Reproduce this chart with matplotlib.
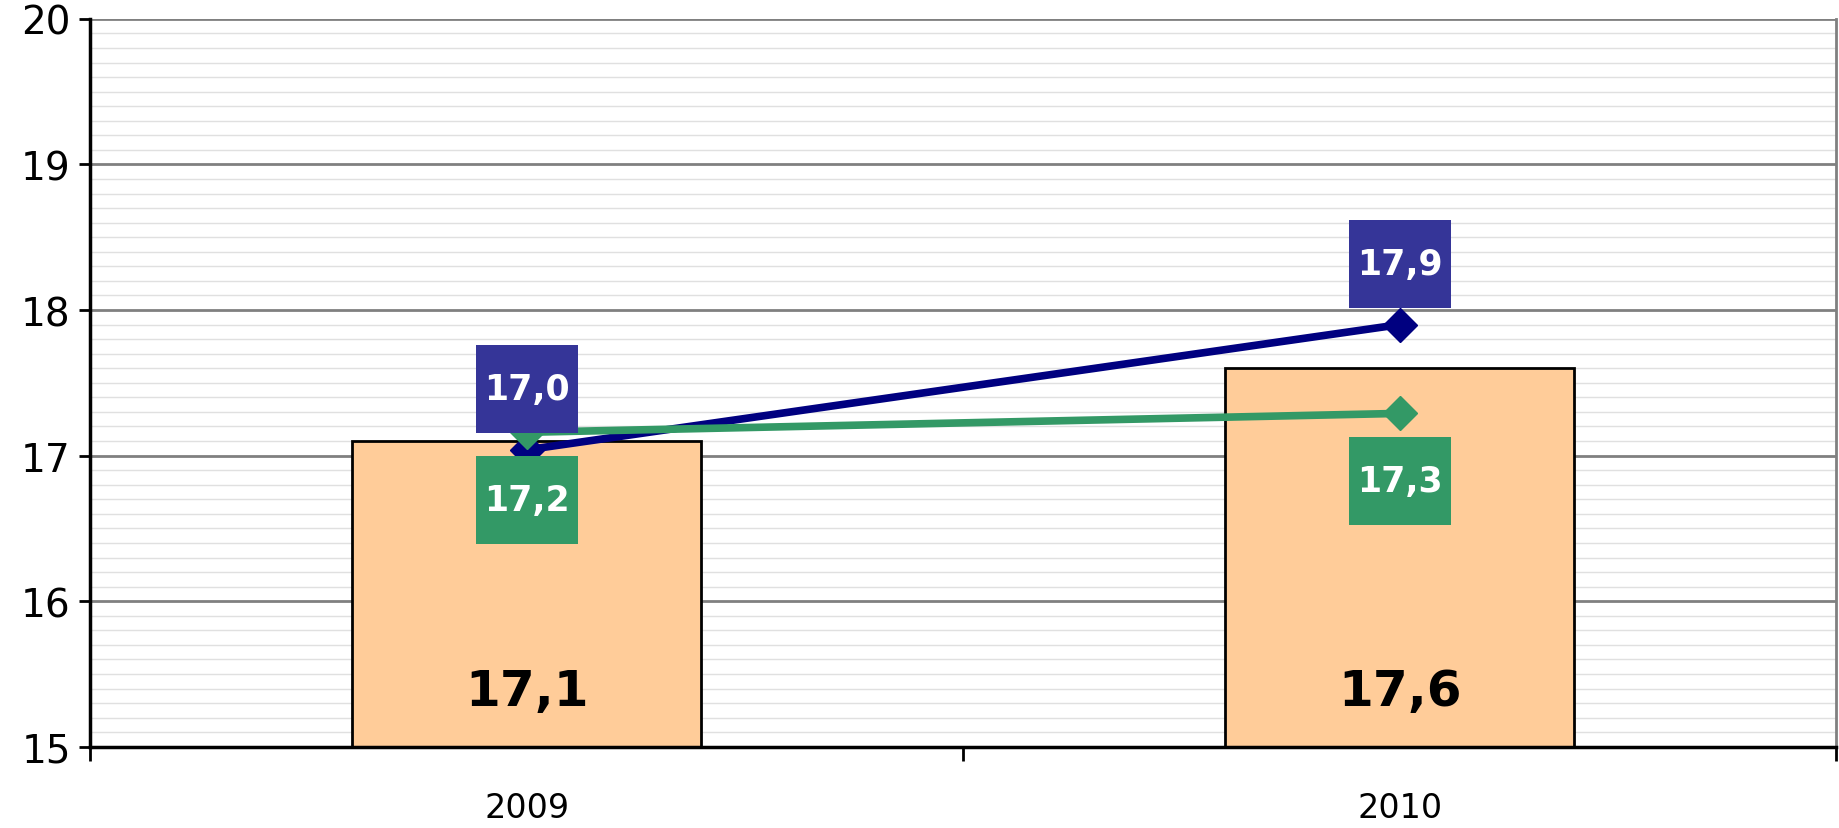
import matplotlib.pyplot as plt
from matplotlib.patches import Rectangle
from matplotlib.transforms import ScaledTranslation
from matplotlib.ticker import MultipleLocator, FixedLocator, NullFormatter

anos = ["2009", "2010"]
barras = [17.1, 17.6]
serie_azul = [17.04, 17.9]
serie_verde = [17.16, 17.29]


def fmt(v):
    return f"{v:.1f}".replace(".", ",")


fig = plt.figure(figsize=(18.4, 8.29), dpi=100)
ax = fig.add_axes([0.049, 0.098, 0.949, 0.878])

x = list(range(len(anos)))

ax.bar(x, [b - 15 for b in barras], bottom=15, width=0.4,
       color="#FFCC99", edgecolor="black", linewidth=2, zorder=2)
for xi, b in zip(x, barras):
    ax.text(xi, 15.38, fmt(b), ha="center", va="center",
            fontsize=36, fontweight="bold", color="black", zorder=5)

ax.plot(x, serie_azul, color="#000080", linewidth=5.5, marker="D",
        markersize=17, zorder=3)
ax.plot(x, serie_verde, color="#339966", linewidth=5.5, marker="D",
        markersize=17, zorder=4)


def caixa(xi, v, dy, cor):
    # caixa de rótulo com tamanho fixo (polegadas), deslocada do ponto
    w, h = 1.02, 0.88
    tr = fig.dpi_scale_trans + ScaledTranslation(xi, v, ax.transData)
    ax.add_patch(Rectangle((-w / 2, dy - h / 2), w, h, transform=tr,
                           facecolor=cor, edgecolor="none", zorder=6,
                           clip_on=False))
    ax.text(0, dy, fmt(v), transform=tr, ha="center", va="center",
            fontsize=25, fontweight="bold", color="white", zorder=7)


for xi, v in zip(x, serie_azul):
    caixa(xi, v, 0.61, "#353598")
for xi, v in zip(x, serie_verde):
    caixa(xi, v, -0.68, "#339966")

ax.set_ylim(15, 20)
ax.set_xlim(-0.5, 1.5)

ax.yaxis.set_major_locator(MultipleLocator(1))
ax.yaxis.set_minor_locator(MultipleLocator(0.1))
ax.grid(axis="y", which="major", color="#808080", linewidth=2, zorder=0)
ax.grid(axis="y", which="minor", color="#E0E0E0", linewidth=1, zorder=0)
ax.set_axisbelow(True)
ax.tick_params(axis="y", which="major", length=8, width=2, labelsize=28,
               direction="out", pad=6)
ax.tick_params(axis="y", which="minor", length=0)

ax.xaxis.set_major_locator(FixedLocator([-0.5, 0.5, 1.5]))
ax.xaxis.set_major_formatter(NullFormatter())
ax.xaxis.set_minor_locator(FixedLocator(x))
ax.set_xticklabels(anos, minor=True)
ax.tick_params(axis="x", which="major", length=10, width=2, direction="out")
ax.tick_params(axis="x", which="minor", length=0, labelsize=24, pad=32)

for s in ["left", "bottom"]:
    ax.spines[s].set_linewidth(2.5)
    ax.spines[s].set_color("black")
ax.spines["top"].set_visible(False)
ax.spines["right"].set_color("#808080")
ax.spines["right"].set_linewidth(2)

fig.savefig("out.png", dpi=100)
